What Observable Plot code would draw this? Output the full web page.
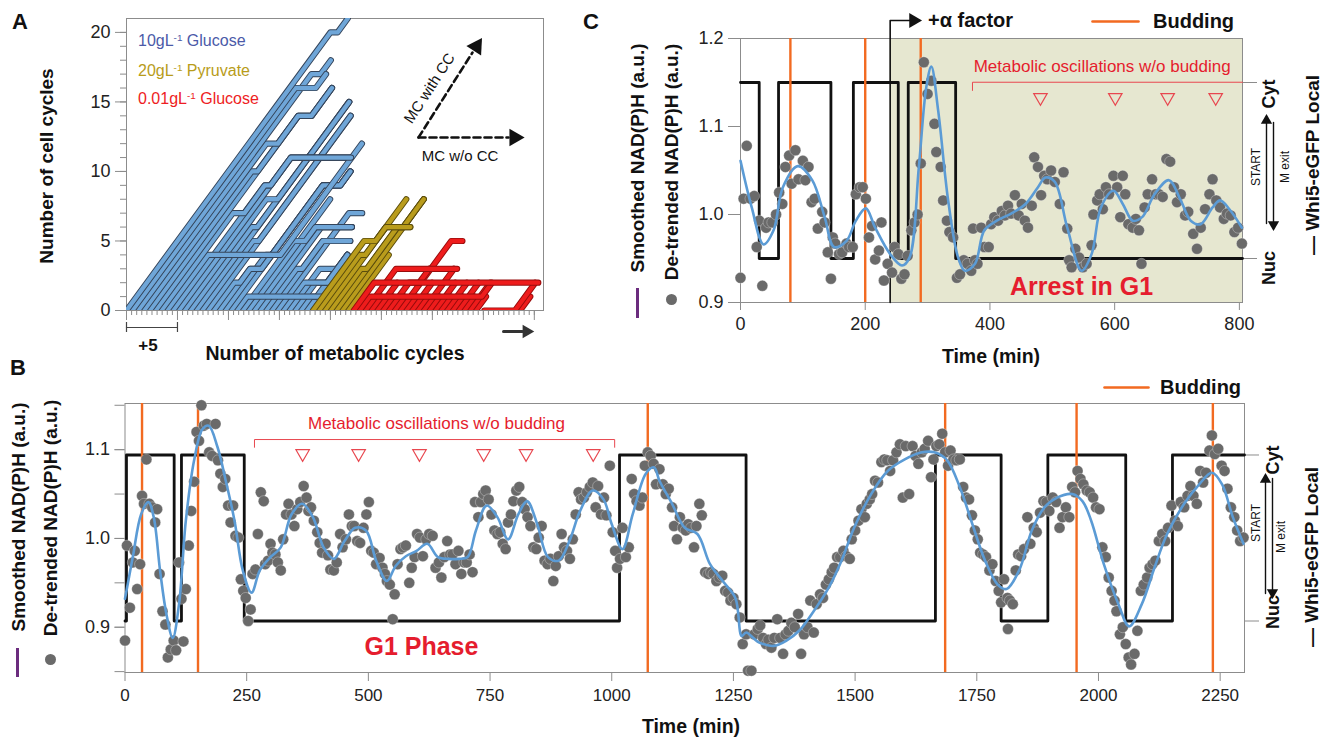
<!DOCTYPE html>
<html><head><meta charset="utf-8">
<script src="https://cdn.jsdelivr.net/npm/d3@7"></script>
<script src="https://cdn.jsdelivr.net/npm/@observablehq/plot@0.6"></script>
<style>
body{margin:0;background:#fff;}
#fig{position:relative;width:1321px;height:740px;overflow:hidden;background:#fff;font-family:"Liberation Sans",Arial,Helvetica,sans-serif;}
.t{position:absolute;white-space:nowrap;line-height:1;}
.t sup{font-size:0.62em;vertical-align:0.55em;line-height:0;}
</style></head><body><div id="fig"></div>
<script>
// ---------------- Panel A data: lineages [start metabolic cycle, moves] (d = cycle with CC, h = cycles w/o CC)
const aBlue = [
 [0.00,"d20 h0.7 d1"],[0.57,"d16 h2 d1"],[1.14,"d17 h0.9 d1"],[1.71,"d12 h1.14 d2 h1.3 d2"],
 [2.28,"d10 h0.57 d4 h1.3 d2"],[2.85,"d14 h1.3 d2"],[3.42,"d7 h1.14 d2 h0.57 d2 h5.9"],[3.99,"d4 h7.1 d8"],
 [4.56,"d9 h0.57 d2 h5.9"],[5.13,"d11 h5.9"],[5.70,"d8 h1.14 d7"],[6.27,"d6 h0.57 d9"],
 [6.84,"d15"],[7.41,"d5 h0.57 d9"],[7.98,"d14"],[8.55,"d2 h0.57 d1 h1.14 d6 h1.7 d1"],
 [9.12,"d3 h1.14 d6 h1.7 d1"],[9.69,"d4 h0.57 d5 h1.7 d1"],[10.26,"d9 h1.7 d1"],[10.83,"d1 h8.2"],
 [11.40,"d5 h1.14 d1 h3.57"],[11.97,"d8"],[12.54,"d6 h3.57"],[13.11,"d6 h3"],
 [13.68,"d3 h0.57 d2 h2.7"],[14.25,"d5 h2.7"],[14.82,"d7 h1.3"],[15.39,"d2 h2.28 d2"],
 [15.96,"d3 h3"],[16.53,"d2 h1.14 d2"],[17.10,"d1 h0.57 d3"],[17.67,"d4"]
];
const aGold = [
 [18.30,"d5 h1.14 d1 h2.4"],[18.87,"d4 h0.57 d4"],[19.44,"d6 h2.4"],[20.01,"d3 h0.57 d3 h0.57 d2"],
 [20.58,"d6 h0.57 d2"],[21.15,"d8"],[21.72,"d4"]
];
const aRed = [
 [22.29,"d2 h16.1"],[22.86,"d1 h11 d1"],[23.43,"d3 h6"],[24.00,"d1"],[24.57,"d2"],
 [25.14,"d1"],[25.71,"d2 h1 d1"],[26.28,"d1"],[26.85,"d5 h1.1"],[27.42,"d1"],
 [27.99,"d2"],[28.56,"d1"],[29.13,"d3"],[29.70,"d1"],[30.27,"d2"],[30.84,"d1"],
 [31.41,"d2"],[31.98,"d1"],[32.55,"d2"],[33.12,"d1"],[33.69,"d2"],[34.26,"d1"],
 [35.10,"h3 d2"],[38.60,"d1"]
];
const aYMajor = [0,5,10,15,20];
const aLegend = [["10gL","Glucose","#4b5aa8"],["20gL","Pyruvate","#b89c1a"],["0.01gL","Glucose","#ee1d23"]];

// ---------------- Panel B data
const bTicksX = [0,250,500,750,1000,1250,1500,1750,2000,2250];
const bTicksY = [0.9,1.0,1.1];
const bMinorY = [0.85,0.9,0.95,1.0,1.05,1.1,1.15];
const bBudding = [35,150,1074,1685,1955,2235];
const bSwitchT = [0,3,101,116,245,1016,1276,1665,1800,1896,2056,2152,2300];
const bSwitchS = ["Nuc","Cyt","Nuc","Cyt","Nuc","Cyt","Nuc","Cyt","Nuc","Cyt","Nuc","Cyt","Cyt"];
const bLevel = {Cyt:1.094, Nuc:0.907};
const bMarkers = [365,480,605,737,824,962];
const bPoints = [[0,0.885],[4,0.992],[10,0.922],[16,0.973],[20,0.986],[25,0.943],[31,0.971],[35,1.048],[39,1.039],[44,1.089],[50,1.039],[56,1.035],[62,1.018],[66,1.033],[71,0.960],[77,0.918],[83,0.903],[88,0.866],[94,0.875],[100,0.885],[105,0.874],[111,0.973],[116,0.932],[120,0.884],[125,0.943],[131,0.992],[136,1.031],[142,1.064],[147,1.120],[152,1.110],[157,1.150],[162,1.127],[168,1.129],[173,1.097],[179,1.093],[186,1.129],[191,1.088],[196,1.073],[201,1.058],[206,1.067],[212,1.037],[217,1.018],[222,1.037],[227,1.003],[233,1.001],[238,0.954],[243,0.941],[248,0.933],[253,0.907],[258,0.920],[262,0.960],[268,0.965],[273,1.005],[279,1.052],[285,1.042],[288,0.971],[294,0.975],[299,0.994],[303,0.984],[309,0.982],[314,0.973],[320,0.964],[325,0.999],[331,1.027],[336,1.039],[342,1.027],[348,1.014],[354,1.033],[360,1.041],[367,1.059],[373,1.046],[377,1.031],[382,1.035],[388,1.020],[395,1.007],[400,0.995],[405,0.984],[412,0.994],[417,0.981],[422,0.965],[429,0.964],[435,0.973],[442,1.005],[447,0.990],[454,0.999],[460,1.027],[466,1.014],[471,1.014],[477,0.997],[483,0.995],[490,1.012],[496,1.027],[501,1.041],[506,0.986],[511,0.984],[516,0.971],[523,0.978],[529,0.967],[534,0.960],[538,0.952],[544,0.948],[550,0.909],[554,0.937],[560,0.971],[566,0.988],[571,0.990],[577,0.992],[584,0.950],[589,0.967],[595,0.979],[600,1.005],[606,1.001],[612,0.980],[619,0.999],[625,1.005],[632,1.003],[638,0.967],[645,0.973],[650,0.956],[656,0.979],[662,0.997],[668,0.982],[673,0.982],[679,0.971],[685,0.986],[691,0.960],[697,0.973],[702,0.973],[708,0.982],[714,0.962],[719,1.041],[726,1.024],[731,1.041],[736,1.050],[741,1.054],[747,1.044],[753,1.027],[759,1.009],[765,1.005],[771,1.007],[776,0.994],[782,0.988],[787,1.018],[793,1.027],[798,1.042],[804,1.054],[810,1.058],[816,1.041],[821,1.033],[827,1.024],[833,1.014],[839,0.990],[845,0.988],[850,1.001],[856,1.014],[862,0.975],[868,0.971],[874,0.977],[880,0.952],[885,0.969],[891,0.980],[897,1.005],[902,0.990],[908,0.986],[914,0.977],[920,0.999],[926,1.027],[932,1.052],[937,1.044],[943,1.046],[949,1.052],[955,1.058],[961,1.063],[967,1.035],[972,1.059],[978,1.027],[984,1.046],[989,1.026],[996,1.082],[1002,1.007],[1007,0.986],[1011,0.967],[1017,0.977],[1022,1.012],[1029,0.979],[1035,0.990],[1041,1.067],[1046,1.050],[1051,1.042],[1057,1.037],[1063,1.046],[1068,1.082],[1074,1.097],[1080,1.093],[1086,1.084],[1091,1.061],[1098,1.078],[1105,1.061],[1111,1.050],[1117,1.056],[1124,1.035],[1128,1.014],[1134,0.999],[1140,1.024],[1146,1.012],[1152,1.009],[1157,1.016],[1163,1.012],[1169,0.990],[1174,1.014],[1180,1.039],[1185,1.026],[1192,0.962],[1198,0.960],[1204,0.962],[1209,0.960],[1215,0.952],[1221,0.956],[1227,0.958],[1233,0.941],[1239,0.939],[1244,0.930],[1250,0.933],[1256,0.926],[1263,0.911],[1269,0.881],[1276,0.892],[1280,0.851],[1287,0.851],[1293,0.892],[1300,0.898],[1305,0.902],[1311,0.888],[1317,0.881],[1322,0.886],[1328,0.877],[1334,0.888],[1340,0.909],[1346,0.888],[1352,0.870],[1357,0.892],[1363,0.896],[1369,0.905],[1376,0.900],[1383,0.915],[1389,0.870],[1395,0.892],[1402,0.900],[1408,0.930],[1415,0.894],[1421,0.926],[1428,0.937],[1434,0.933],[1440,0.948],[1446,0.954],[1452,0.962],[1457,0.967],[1463,0.979],[1469,0.979],[1476,0.986],[1482,0.980],[1489,0.977],[1493,0.999],[1500,1.009],[1507,1.020],[1513,1.033],[1520,1.024],[1524,1.039],[1530,1.044],[1535,1.050],[1541,1.065],[1547,1.063],[1554,1.086],[1560,1.089],[1566,1.088],[1572,1.076],[1578,1.088],[1585,1.097],[1592,1.106],[1598,1.046],[1604,1.104],[1611,1.050],[1618,1.104],[1624,1.093],[1630,1.084],[1637,1.097],[1643,1.101],[1650,1.110],[1656,1.069],[1661,1.089],[1667,1.104],[1673,1.106],[1679,1.118],[1685,1.097],[1691,1.082],[1696,1.099],[1702,1.089],[1708,1.088],[1715,1.089],[1722,1.058],[1728,1.046],[1734,1.044],[1740,1.026],[1746,1.009],[1752,0.999],[1757,0.984],[1763,0.982],[1769,0.979],[1776,0.964],[1782,0.971],[1789,0.952],[1795,0.941],[1800,0.928],[1806,0.954],[1813,0.933],[1814,0.898],[1818,0.930],[1824,0.926],[1830,0.964],[1835,0.982],[1841,0.980],[1847,0.988],[1854,1.024],[1860,0.994],[1867,1.012],[1873,1.007],[1880,1.029],[1887,1.042],[1893,1.041],[1899,1.031],[1906,1.046],[1913,1.041],[1920,1.012],[1926,1.024],[1933,1.035],[1940,1.024],[1946,1.058],[1952,1.052],[1957,1.076],[1963,1.067],[1969,1.061],[1976,1.054],[1982,1.052],[1989,1.046],[1995,1.035],[2002,1.033],[2008,0.990],[2015,0.979],[2021,0.956],[2027,0.941],[2033,0.930],[2037,0.918],[2044,0.892],[2050,0.900],[2056,0.881],[2062,0.866],[2067,0.858],[2074,0.870],[2080,0.896],[2087,0.941],[2093,0.948],[2100,0.956],[2105,0.967],[2111,0.971],[2117,0.975],[2124,0.997],[2131,1.005],[2137,0.997],[2143,1.012],[2150,1.037],[2157,1.020],[2163,1.014],[2169,1.041],[2176,1.035],[2183,1.048],[2189,1.059],[2195,1.048],[2202,1.039],[2209,1.076],[2215,1.063],[2221,1.074],[2228,1.099],[2233,1.116],[2239,1.095],[2246,1.101],[2253,1.082],[2259,1.076],[2265,1.056],[2272,1.035],[2279,1.024],[2285,1.009],[2291,0.997],[2298,1.001]];
const bSmooth = [[0,0.932],[16,0.979],[33,1.027],[48,1.041],[59,1.024],[72,0.964],[85,0.915],[98,0.888],[111,0.926],[125,1.020],[142,1.088],[159,1.123],[172,1.127],[190,1.103],[207,1.065],[225,1.020],[242,0.964],[260,0.939],[277,0.964],[299,0.979],[320,0.990],[342,1.027],[364,1.039],[386,1.024],[408,0.990],[429,0.977],[451,0.997],[473,1.012],[495,1.009],[516,0.975],[538,0.952],[556,0.969],[577,0.980],[599,0.986],[621,0.994],[643,0.979],[665,0.977],[686,0.977],[704,0.979],[721,1.009],[743,1.037],[765,1.024],[787,0.999],[808,1.027],[826,1.042],[847,1.016],[869,0.979],[891,0.975],[913,0.997],[935,1.031],[961,1.054],[983,1.044],[1000,1.016],[1022,0.988],[1043,1.027],[1070,1.073],[1087,1.080],[1098,1.065],[1124,1.039],[1150,1.012],[1176,1.005],[1202,0.971],[1228,0.952],[1254,0.933],[1267,0.890],[1276,0.894],[1302,0.883],[1333,0.879],[1359,0.885],[1385,0.896],[1411,0.915],[1446,0.945],[1472,0.975],[1498,1.012],[1533,1.050],[1567,1.076],[1602,1.089],[1637,1.097],[1663,1.097],[1689,1.088],[1715,1.058],[1741,1.016],[1767,0.975],[1793,0.948],[1811,0.943],[1837,0.964],[1863,1.009],[1889,1.035],[1915,1.046],[1946,1.050],[1967,1.042],[1985,1.020],[2011,0.971],[2041,0.926],[2063,0.901],[2089,0.926],[2115,0.967],[2141,1.005],[2176,1.039],[2207,1.061],[2233,1.074],[2254,1.061],[2276,1.024],[2298,0.994]];

// ---------------- Panel C data
const cTicksX = [0,200,400,600,800];
const cTicksY = [0.9,1.0,1.1,1.2];
const cBudding = [80,200,289];
const cAlphaFactor = 240;
const cSwitchT = [0,30,61,145,181,253,269,345,805];
const cSwitchS = ["Cyt","Nuc","Cyt","Nuc","Cyt","Nuc","Cyt","Nuc","Nuc"];
const cLevel = {Cyt:1.15, Nuc:0.95};
const cMarkers = [481,601,685,762];
const cPoints = [[0,0.928],[5,1.018],[10,1.078],[16,1.018],[22,1.021],[26,0.963],[30,0.993],[35,0.919],[41,0.985],[45,0.991],[51,0.991],[57,1.000],[62,1.025],[67,1.012],[72,1.054],[78,1.067],[82,1.035],[88,1.073],[93,1.040],[100,1.061],[104,1.039],[109,1.054],[114,1.014],[119,1.018],[124,0.984],[131,1.003],[135,0.991],[140,0.957],[145,0.927],[148,0.974],[152,0.967],[158,0.955],[163,0.957],[170,0.967],[174,0.963],[180,0.963],[185,1.023],[191,1.031],[196,1.031],[201,1.018],[206,0.974],[211,0.987],[216,0.949],[222,0.959],[226,0.991],[230,0.925],[236,0.944],[243,0.934],[247,0.963],[253,0.955],[258,0.927],[263,0.932],[268,0.953],[274,0.982],[279,0.991],[284,1.000],[289,1.058],[294,1.173],[300,1.137],[306,1.152],[311,1.103],[314,1.071],[321,1.054],[325,1.016],[331,0.993],[335,0.980],[341,0.974],[347,0.928],[352,0.932],[358,0.948],[364,0.944],[370,0.936],[373,0.984],[376,0.948],[380,0.944],[386,0.985],[391,0.963],[398,0.963],[402,0.989],[407,0.997],[413,0.993],[419,1.004],[424,0.999],[429,1.010],[434,1.001],[440,1.022],[446,0.999],[451,1.012],[456,0.993],[461,0.985],[467,1.010],[471,1.065],[477,1.054],[482,1.022],[487,1.044],[492,1.040],[498,1.050],[504,1.037],[512,1.012],[518,1.048],[524,0.984],[527,0.948],[531,0.940],[537,0.961],[543,0.951],[549,0.940],[555,0.944],[563,0.965],[566,1.000],[572,1.016],[576,1.023],[581,1.006],[586,1.031],[591,1.023],[598,1.044],[604,1.031],[609,0.997],[613,1.044],[617,1.023],[622,0.989],[629,0.985],[634,0.995],[639,0.982],[643,0.944],[648,1.008],[653,1.023],[660,1.040],[666,1.023],[671,1.023],[677,1.020],[683,1.063],[689,1.060],[695,1.031],[700,1.014],[706,1.023],[713,0.999],[718,1.003],[726,0.978],[732,0.961],[738,0.985],[745,1.006],[752,1.023],[757,1.040],[763,1.016],[769,1.008],[775,0.995],[780,1.001],[786,0.999],[792,0.980],[798,0.985],[804,0.967]];
const cSmooth = [[0,1.061],[18,1.008],[37,0.966],[53,0.982],[68,1.031],[92,1.055],[115,1.039],[135,0.997],[150,0.963],[170,0.970],[185,0.993],[201,1.007],[216,0.985],[240,0.955],[259,0.942],[271,0.951],[286,1.054],[298,1.145],[306,1.168],[317,1.118],[333,1.016],[349,0.951],[360,0.936],[376,0.944],[391,0.982],[411,0.993],[434,1.001],[457,1.012],[477,1.031],[489,1.042],[504,1.037],[524,0.985],[547,0.936],[563,0.955],[578,1.008],[598,1.027],[613,1.012],[629,0.993],[644,0.997],[664,1.023],[687,1.039],[706,1.016],[722,0.993],[738,0.989],[757,1.008],[769,1.016],[784,1.006],[804,0.985]];

// ---------------- styles
const FONT = '"Liberation Sans", Arial, Helvetica, sans-serif';
const GRAY = "#8c8c8c", ORANGE = "#f26a21", BLUE = "#5b9bd5", DOT = "#6a6a6a", RED = "#e51d2e", TRI = "#e8474f";
const fig = document.getElementById("fig");

function mount(svg, left, top){
  const d = document.createElement("div");
  d.style.position = "absolute"; d.style.left = left + "px"; d.style.top = top + "px";
  d.appendChild(svg); fig.appendChild(d);
}
function label(html, x, y, o = {}){
  const d = document.createElement("div");
  d.className = "t"; d.innerHTML = html;
  d.style.left = x + "px"; d.style.top = y + "px";
  d.style.fontSize = (o.size || 16) + "px";
  d.style.fontWeight = o.bold ? "bold" : "normal";
  d.style.color = o.color || "#111";
  const tx = o.anchor === "start" ? "0%" : o.anchor === "end" ? "-100%" : "-50%";
  d.style.transform = `translate(${tx},-50%)` + (o.rot ? ` rotate(${o.rot}deg)` : "");
  fig.appendChild(d);
}
function box(x, y, w, h, color, radius){
  const d = document.createElement("div");
  Object.assign(d.style, {position:"absolute", left:x+"px", top:y+"px", width:w+"px", height:h+"px", background:color, borderRadius:(radius||0)+"px"});
  fig.appendChild(d);
}
const baseStyle = {background:"transparent", fontFamily: FONT, fontSize:"16px", color:"#222", overflow:"visible"};

// ---------------- Panel A
function expand(list){
  return list.map(([x0, moves]) => {
    let x = x0, y = 0; const pts = [{x, y}];
    for (const tok of moves.split(" ")) {
      const n = +tok.slice(1);
      if (tok[0] === "d") { x += n; y += n; } else { x += n; }
      pts.push({x, y});
    }
    return pts;
  });
}
function tubes(list, outline, fill){
  return expand(list).reverse().flatMap(pts => [
    Plot.line(pts, {x:"x", y:"y", stroke:outline, strokeWidth:6.2, strokeLinecap:"round", strokeLinejoin:"round", clip:true}),
    Plot.line(pts, {x:"x", y:"y", stroke:fill, strokeWidth:4.3, strokeLinecap:"round", strokeLinejoin:"round", clip:true})
  ]);
}
const aW = 560, aH = 370, aML = 126, aMR = 17, aMT = 18, aMB = 60, aXMax = 40.9, aYMax = 21;
const axp = px => (px - aML) / (aW - aML - aMR) * aXMax;
const ayp = py => (aH - aMB - py) / (aH - aMT - aMB) * aYMax;
const plotA = Plot.plot({
  width:aW, height:aH, marginLeft:aML, marginRight:aMR, marginTop:aMT, marginBottom:aMB,
  x:{domain:[0,aXMax], axis:null}, y:{domain:[0,aYMax], axis:null},
  style: baseStyle,
  marks:[
    Plot.frame({stroke:GRAY}),
    Plot.axisY({ticks:d3.range(0,21), tickSize:6, tickFormat:()=>"", stroke:GRAY, label:null}),
    Plot.axisY({ticks:aYMajor, tickSize:11, tickPadding:5, fontSize:18, stroke:GRAY, fill:"#222", label:null}),
    Plot.axisX({ticks:d3.range(0,40.01,0.5), tickSize:5, tickFormat:()=>"", stroke:GRAY, label:null}),
    Plot.axisX({ticks:d3.range(0,40.01,5), tickSize:10, tickFormat:()=>"", stroke:GRAY, label:null}),
    ...tubes(aBlue, "#34445a", "#6fa6d8"),
    ...tubes(aGold, "#5b4d0c", "#b99c1c"),
    ...tubes(aRed, "#980c0c", "#ee1c1c"),
    Plot.line([{x:axp(418),y:ayp(137)},{x:axp(472),y:ayp(52)}], {x:"x", y:"y", stroke:"#111", strokeWidth:2.6, strokeDasharray:"7,4"}),
    Plot.dot([{x:axp(476),y:ayp(46)}], {x:"x", y:"y", symbol:"triangle", rotate:33, r:6.5, fill:"#111"}),
    Plot.line([{x:axp(418),y:ayp(137)},{x:axp(508),y:ayp(137)}], {x:"x", y:"y", stroke:"#111", strokeWidth:2.6, strokeDasharray:"7,4"}),
    Plot.dot([{x:axp(514),y:ayp(137)}], {x:"x", y:"y", symbol:"triangle", rotate:90, r:6.5, fill:"#111"}),
    Plot.line([{x:0,y:ayp(327)},{x:5,y:ayp(327)}], {x:"x", y:"y", stroke:"#444", strokeWidth:1.2}),
    Plot.ruleX([0,5], {y1:ayp(322), y2:ayp(332), stroke:"#444", strokeWidth:1.2}),
    Plot.line([{x:axp(503),y:ayp(331)},{x:axp(522),y:ayp(331)}], {x:"x", y:"y", stroke:"#333", strokeWidth:3}),
    Plot.dot([{x:axp(526),y:ayp(331)}], {x:"x", y:"y", symbol:"triangle", rotate:90, r:5, fill:"#333"})
  ]
});
mount(plotA, 0, 0);

// ---------------- Panel B
const bW = 1321, bH = 370, bML = 124.5, bMR = 77, bMT = 33, bMB = 68, bTop = 370, bX = [0,2300], bY = [0.849,1.152];
const bxp = px => (px - bML) / (bW - bML - bMR) * (bX[1]-bX[0]);
const byp = py => bY[1] - (py - bTop - bMT) / (bH - bMT - bMB) * (bY[1]-bY[0]);
const bStep = bSwitchT.map((t,i) => ({t, v:bLevel[bSwitchS[i]]}));
const plotB = Plot.plot({
  width:bW, height:bH, marginLeft:bML, marginRight:bMR, marginTop:bMT, marginBottom:bMB,
  x:{domain:bX, axis:null}, y:{domain:bY, axis:null},
  style: baseStyle,
  marks:[
    Plot.frame({stroke:GRAY}),
    Plot.axisY({ticks:bMinorY, tickSize:10, tickFormat:()=>"", stroke:GRAY, label:null}),
    Plot.axisY({ticks:bTicksY, tickSize:10, tickPadding:5, tickFormat:d3.format(".1f"), fontSize:18, stroke:GRAY, fill:"#222", label:null}),
    Plot.axisY({anchor:"right", ticks:[bLevel.Nuc,bLevel.Cyt], tickSize:14, tickFormat:()=>"", stroke:GRAY, label:null}),
    Plot.axisX({ticks:bTicksX, tickSize:9, tickPadding:7, tickFormat:d3.format("d"), fontSize:17, stroke:GRAY, fill:"#222", label:null}),
    Plot.line(bStep, {x:"t", y:"v", curve:"step-after", stroke:"#111", strokeWidth:2.8}),
    Plot.ruleX(bBudding, {stroke:ORANGE, strokeWidth:2.4}),
    Plot.dot(bPoints, {x:d=>d[0], y:d=>d[1], r:5.5, fill:DOT, stroke:"#fff", strokeWidth:0.5, strokeOpacity:0.6}),
    Plot.line(bSmooth, {x:d=>d[0], y:d=>d[1], curve:"catmull-rom", stroke:BLUE, strokeWidth:2.6}),
    Plot.line([{x:266,y:1.1027},{x:266,y:1.1114},{x:1006,y:1.1114},{x:1006,y:1.1027}], {x:"x", y:"y", stroke:TRI, strokeWidth:1}),
    Plot.text(["Metabolic oscillations w/o budding"], {x:640, y:1.129, text:d=>d, fill:RED, fontSize:17}),
    Plot.dot(bMarkers, {x:d=>d, y:1.0956, symbol:"triangle", rotate:180, r:5, stroke:TRI, fill:"white", strokeWidth:1.2}),
    Plot.text(["G1 Phase"], {x:609, y:0.8775, text:d=>d, fill:RED, fontSize:25, fontWeight:"bold"}),
    Plot.line([{x:bxp(1104),y:byp(387)},{x:bxp(1148),y:byp(387)}], {x:"x", y:"y", stroke:ORANGE, strokeWidth:2.6}),
    Plot.line([{x:bxp(1265),y:byp(593)},{x:bxp(1265),y:byp(481)}], {x:"x", y:"y", stroke:"#111", strokeWidth:1.4}),
    Plot.dot([{x:bxp(1265),y:byp(479)}], {x:"x", y:"y", symbol:"triangle", r:4.2, fill:"#111"}),
    Plot.line([{x:bxp(1272),y:byp(478)},{x:bxp(1272),y:byp(590)}], {x:"x", y:"y", stroke:"#111", strokeWidth:1.4}),
    Plot.dot([{x:bxp(1272),y:byp(592)}], {x:"x", y:"y", symbol:"triangle", rotate:180, r:4.2, fill:"#111"})
  ]
});
mount(plotB, 0, bTop);

// ---------------- Panel C
const cW = 761, cH = 370, cML = 180, cMR = 79, cMT = 38, cMB = 68, cLeft = 560, cX = [0,805], cY = [0.9,1.2];
const cxp = px => (px - cLeft - cML) / (cW - cML - cMR) * (cX[1]-cX[0]);
const cyp = py => cY[1] - (py - cMT) / (cH - cMT - cMB) * (cY[1]-cY[0]);
const cStep = cSwitchT.map((t,i) => ({t, v:cLevel[cSwitchS[i]]}));
const plotC = Plot.plot({
  width:cW, height:cH, marginLeft:cML, marginRight:cMR, marginTop:cMT, marginBottom:cMB,
  x:{domain:cX, axis:null}, y:{domain:cY, axis:null},
  style: baseStyle,
  marks:[
    Plot.rect([{x1:cAlphaFactor, x2:cX[1], y1:cY[0], y2:cY[1]}], {x1:"x1", x2:"x2", y1:"y1", y2:"y2", fill:"#e6e7d0"}),
    Plot.frame({stroke:GRAY}),
    Plot.axisY({ticks:cTicksY, tickSize:12, tickPadding:5, tickFormat:d3.format(".1f"), fontSize:18, stroke:GRAY, fill:"#222", label:null}),
    Plot.axisY({anchor:"right", ticks:[cLevel.Nuc,cLevel.Cyt], tickSize:14, tickFormat:()=>"", stroke:GRAY, label:null}),
    Plot.axisX({ticks:cTicksX, tickSize:8, tickPadding:7, tickFormat:d3.format("d"), fontSize:18, stroke:GRAY, fill:"#222", label:null}),
    Plot.line(cStep, {x:"t", y:"v", curve:"step-after", stroke:"#111", strokeWidth:2.8}),
    Plot.ruleX(cBudding, {stroke:ORANGE, strokeWidth:2.4}),
    Plot.line([{x:cAlphaFactor,y:cY[0]},{x:cAlphaFactor,y:cyp(20)},{x:cxp(910),y:cyp(20)}], {x:"x", y:"y", stroke:"#111", strokeWidth:1.6}),
    Plot.dot([{x:cxp(913),y:cyp(20)}], {x:"x", y:"y", symbol:"triangle", rotate:90, r:5.5, fill:"#111"}),
    Plot.dot(cPoints, {x:d=>d[0], y:d=>d[1], r:5.5, fill:DOT, stroke:"#fff", strokeWidth:0.5, strokeOpacity:0.6}),
    Plot.line(cSmooth, {x:d=>d[0], y:d=>d[1], curve:"catmull-rom", stroke:BLUE, strokeWidth:2.6}),
    Plot.line([{x:372,y:1.141},{x:372,y:1.1503},{x:805,y:1.1503}], {x:"x", y:"y", stroke:TRI, strokeWidth:1}),
    Plot.text(["Metabolic oscillations w/o budding"], {x:580, y:1.168, text:d=>d, fill:RED, fontSize:17}),
    Plot.dot(cMarkers, {x:d=>d, y:1.133, symbol:"triangle", rotate:180, r:5, stroke:TRI, fill:"none", strokeWidth:1.2}),
    Plot.text(["Arrest in G1"], {x:547, y:0.9174, text:d=>d, fill:RED, fontSize:25, fontWeight:"bold"}),
    Plot.line([{x:cxp(1092),y:cyp(21)},{x:cxp(1138),y:cyp(21)}], {x:"x", y:"y", stroke:ORANGE, strokeWidth:2.6}),
    Plot.line([{x:cxp(1266),y:cyp(223)},{x:cxp(1266),y:cyp(122)}], {x:"x", y:"y", stroke:"#111", strokeWidth:1.4}),
    Plot.dot([{x:cxp(1266),y:cyp(120)}], {x:"x", y:"y", symbol:"triangle", r:4.2, fill:"#111"}),
    Plot.line([{x:cxp(1273),y:cyp(122)},{x:cxp(1273),y:cyp(222)}], {x:"x", y:"y", stroke:"#111", strokeWidth:1.4}),
    Plot.dot([{x:cxp(1273),y:cyp(224)}], {x:"x", y:"y", symbol:"triangle", rotate:180, r:4.2, fill:"#111"})
  ]
});
mount(plotC, cLeft, 0);

// ---------------- Text labels
label("A", 20, 22, {size:22, bold:true});
label("B", 18, 368, {size:22, bold:true});
label("C", 591, 22, {size:22, bold:true});
// panel A
label("Number of cell cycles", 46, 166, {size:19, bold:true, rot:-90});
label("Number of metabolic cycles", 335, 354, {size:19.5, bold:true});
label("+5", 148, 345, {size:17, bold:true});
aLegend.forEach(([a,b,c],i) => label(`${a}<sup>-1</sup> ${b}`, 138, [41,71,99][i], {size:16, color:c, anchor:"start"}));
label("MC with CC", 429, 88, {size:15, rot:-57});
label("MC w/o CC", 460, 155, {size:15});
// panel B
label("Smoothed NAD(P)H (a.u.)", 18, 517, {size:19, bold:true, rot:-90});
label("De-trended NAD(P)H (a.u.)", 50, 518, {size:19, bold:true, rot:-90});
box(16, 648, 3, 29, "#6b2c7e");
box(44.5, 653.5, 11, 11, DOT, 6);
label("Time (min)", 691, 727, {size:19.5, bold:true});
label("Budding", 1160, 387, {size:20, bold:true, anchor:"start"});
label("Cyt", 1273, 460, {size:18, bold:true, rot:-90});
label("Nuc", 1273, 612, {size:18, bold:true, rot:-90});
label("START", 1256, 523, {size:12, rot:-90});
label("M exit", 1281, 537, {size:12, rot:-90});
label("— Whi5-eGFP Local", 1311, 557, {size:19, bold:true, rot:-90});
// panel C
label("Smoothed NAD(P)H (a.u.)", 637, 158, {size:19, bold:true, rot:-90});
label("De-trended NAD(P)H (a.u.)", 671, 162, {size:19, bold:true, rot:-90});
box(635.5, 288, 3, 30, "#6b2c7e");
box(665.5, 293.5, 11, 11, DOT, 6);
label("Time (min)", 991, 357, {size:19.5, bold:true});
label("+α factor", 928, 20, {size:20, bold:true, anchor:"start"});
label("Budding", 1153, 21, {size:20, bold:true, anchor:"start"});
label("Cyt", 1269, 94, {size:18, bold:true, rot:-90});
label("Nuc", 1269, 268, {size:18, bold:true, rot:-90});
label("START", 1256, 167, {size:12, rot:-90});
label("M exit", 1285, 167, {size:12, rot:-90});
label("— Whi5-eGFP Local", 1312, 165, {size:19, bold:true, rot:-90});
</script></body></html>
